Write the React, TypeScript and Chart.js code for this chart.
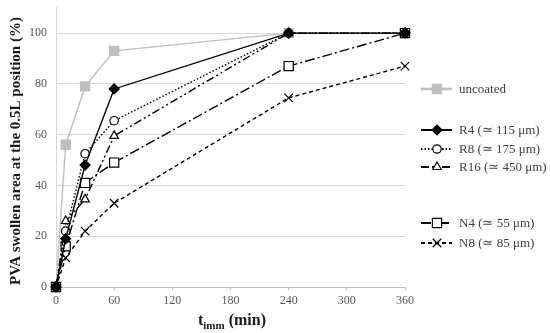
import React, { useEffect, useRef } from "react";
import { Chart, registerables } from "chart.js";
import { drawPoint } from "chart.js/helpers";

Chart.register(...registerables);

const times = [0, 10, 30, 60, 240, 360];
const uncoated = [0, 56, 79, 93, 100, 100];
const r4 = [0, 19, 48, 78, 100, 100];
const r8 = [0, 22, 52.5, 65.5, 100, 100];
const r16 = [0, 26, 34.5, 59.5, 100, 100];
const n4 = [0, 16, 41, 49, 87, 100];
const n8 = [0, 11.5, 22, 33, 74.5, 87];
const seriesLabels = [
  "uncoated",
  "R4 (\u2243 115 \u03bcm)",
  "R8 (\u2243 175 \u03bcm)",
  "R16 (\u2243 450 \u03bcm)",
  "N4 (\u2243 55 \u03bcm)",
  "N8 (\u2243 85 \u03bcm)",
];
const yTitle = "PVA swollen area at the 0.5L position (%)";
const xTitleMain = "t";
const xTitleSub = "imm";
const xTitleRest = " (min)";

const SERIF = "'Liberation Serif', 'Times New Roman', serif";
const legendRows = [89, 130, 149, 167, 223, 243];

const toXY = (vals: number[]) => vals.map((v, i) => ({ x: times[i], y: v }));

const overlayPlugin = {
  id: "overlay",
  afterDraw(chart: any) {
    const ctx = chart.ctx;
    // Y title
    ctx.save();
    ctx.font = `bold 15px ${SERIF}`;
    ctx.fillStyle = "#1a1a1a";
    ctx.textAlign = "center";
    ctx.textBaseline = "middle";
    ctx.translate(16, 151);
    ctx.rotate(-Math.PI / 2);
    ctx.fillText(yTitle, 0, 0);
    ctx.restore();

    // X title with subscript
    ctx.save();
    ctx.fillStyle = "#1a1a1a";
    ctx.textBaseline = "alphabetic";
    ctx.font = `bold 16px ${SERIF}`;
    const wMain = ctx.measureText(xTitleMain).width;
    const wRest = ctx.measureText(xTitleRest).width;
    ctx.font = `bold 11px ${SERIF}`;
    const wSub = ctx.measureText(xTitleSub).width;
    const total = wMain + wSub + wRest;
    let x0 = 232 - total / 2;
    const base = 325;
    ctx.font = `bold 16px ${SERIF}`;
    ctx.fillText(xTitleMain, x0, base);
    x0 += wMain;
    ctx.font = `bold 11px ${SERIF}`;
    ctx.fillText(xTitleSub, x0, base + 4);
    x0 += wSub;
    ctx.font = `bold 16px ${SERIF}`;
    ctx.fillText(xTitleRest, x0, base);
    ctx.restore();

    // Legend
    chart.data.datasets.forEach((ds: any, i: number) => {
      const y = legendRows[i];
      ctx.save();
      ctx.strokeStyle = ds.borderColor;
      ctx.lineWidth = ds.borderWidth + (i === 0 ? 1.2 : 0.6);
      ctx.setLineDash(ds.borderDash || []);
      ctx.beginPath();
      ctx.moveTo(421, y);
      ctx.lineTo(452, y);
      ctx.stroke();
      ctx.setLineDash([]);
      ctx.fillStyle = ds.pointBackgroundColor;
      ctx.strokeStyle = ds.pointBorderColor;
      ctx.lineWidth = ds.pointBorderWidth;
      drawPoint(
        ctx,
        { pointStyle: ds.pointStyle, rotation: 0, radius: ds.pointRadius, borderWidth: ds.pointBorderWidth },
        437,
        y
      );
      ctx.restore();
      ctx.save();
      ctx.font = `13px ${SERIF}`;
      ctx.fillStyle = "#404040";
      ctx.textBaseline = "middle";
      ctx.textAlign = "left";
      ctx.fillText(seriesLabels[i], 459, y + 1);
      ctx.restore();
    });
  },
};

export default function App() {
  const ref = useRef<HTMLCanvasElement>(null);
  useEffect(() => {
    if (!ref.current) return;
    const mk = (
      data: number[],
      color: string,
      dash: number[],
      style: string,
      radius: number,
      fill: string,
      order: number
    ) => ({
      data: toXY(data),
      borderColor: color,
      borderWidth: 1.4,
      borderDash: dash,
      pointStyle: style,
      pointRadius: radius,
      pointBackgroundColor: fill,
      pointBorderColor: color,
      pointBorderWidth: 1.2,
      tension: 0,
      clip: false,
      order,
    });
    const chart = new Chart(ref.current, {
      type: "line",
      data: {
        datasets: [
          mk(uncoated, "#bfbfbf", [], "rect", 6.5, "#bfbfbf", 10),
          mk(r4, "#000000", [], "rectRot", 5, "#000000", 1),
          mk(r8, "#000000", [1.5, 2], "circle", 4.2, "#ffffff", 2),
          mk(r16, "#000000", [8, 3, 2, 3, 2, 3], "triangle", 5, "#ffffff", 3),
          mk(n4, "#000000", [10, 3, 2, 3], "rect", 6.5, "#ffffff", 4),
          mk(n8, "#000000", [4, 3], "crossRot", 6, "#000000", 5),
        ] as any,
      },
      options: {
        responsive: false,
        animation: false,
        layout: { padding: { left: 0, right: 145, top: 2, bottom: 0 } },
        plugins: {
          legend: { display: false },
          tooltip: { enabled: false },
        },
        scales: {
          x: {
            type: "linear",
            min: 0,
            max: 360,
            afterFit: (s: any) => {
              s.height = 46;
              s.paddingLeft = 0;
              s.paddingRight = 0;
            },
            ticks: {
              stepSize: 60,
              color: "#595959",
              font: { family: SERIF, size: 12 },
              padding: 4,
            },
            grid: {
              drawOnChartArea: false,
              drawTicks: true,
              tickLength: 3,
              color: "#bfbfbf",
            },
            border: { color: "#bfbfbf", width: 1 },
          },
          y: {
            min: 0,
            max: 110,
            afterFit: (s: any) => {
              s.width = 56;
              s.paddingTop = 0;
              s.paddingBottom = 0;
            },
            afterBuildTicks: (s: any) => {
              s.ticks = s.ticks.filter((t: any) => t.value <= 100);
            },
            ticks: {
              stepSize: 20,
              color: "#595959",
              font: { family: SERIF, size: 12 },
              padding: 9,
            },
            grid: { color: "#d9d9d9", drawTicks: false },
            border: { color: "#d9d9d9", width: 1 },
          },
        },
      } as any,
      plugins: [overlayPlugin],
    });
    return () => chart.destroy();
  }, []);
  return (
    <div style={{ position: "absolute", left: 0, top: 0, width: 550, height: 333, background: "#fff" }}>
      <canvas ref={ref} width={550} height={333} />
    </div>
  );
}
